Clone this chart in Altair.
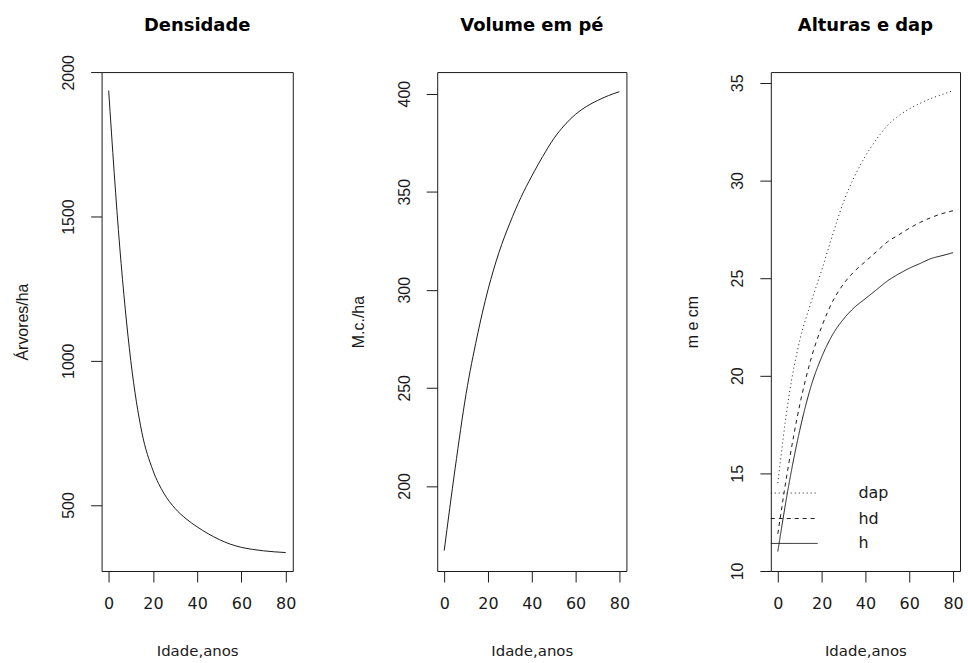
import altair as alt
import pandas as pd

# ---- data ----
idade = [0, 5, 10, 15, 20, 25, 30, 35, 40, 45, 50, 55, 60, 65, 70, 75, 80]
densidade = [1937, 1395, 1000, 752, 620, 540, 488, 452, 424, 400, 380, 364, 353, 346, 341, 337.5, 335]
volume = [167, 209, 247, 276, 300, 319, 334, 347, 358, 368, 377, 384, 389.5, 393.5, 396.5, 399, 401]
h = [11.0, 14.4, 17.2, 19.4, 20.95, 22.1, 22.9, 23.5, 23.95, 24.4, 24.85, 25.2, 25.5, 25.75, 26.0, 26.15, 26.3]
hd = [11.9, 15.5, 18.5, 20.8, 22.5, 23.8, 24.7, 25.35, 25.85, 26.35, 26.85, 27.2, 27.55, 27.85, 28.1, 28.3, 28.45]
dap = [14.5, 18.9, 21.8, 23.7, 25.4, 27.2, 28.9, 30.2, 31.25, 32.1, 32.8, 33.3, 33.66, 33.95, 34.2, 34.4, 34.6]

x_ticks = [0, 20, 40, 60, 80]
series_names = ["dap", "hd", "h"]
titles = ["Densidade", "Volume em pé", "Alturas e dap"]

INK = "#1a1a1a"
XDOM = [-3.2, 83.2]

x_axis = alt.Axis(
    values=x_ticks, format="d", grid=False, domain=False, tickSize=11, tickColor=INK,
    labelFont="DejaVu Sans", labelFontSize=16, labelColor=INK, labelPadding=14,
    title="Idade,anos", titleFont="DejaVu Sans", titleFontSize=15, titleFontWeight="normal",
    titleColor=INK, titlePadding=32,
)


def y_axis(title, values):
    return alt.Axis(
        values=values, format="d", grid=False, domain=False, tickSize=11, tickColor=INK,
        labelFont="Liberation Sans", labelFontSize=16, labelColor=INK, labelAngle=270,
        labelAlign="center", labelBaseline="bottom", labelPadding=14,
        title=title, titleFont="Liberation Sans", titleFontSize=16, titleFontWeight="normal",
        titleColor=INK, titlePadding=30,
    )


def title_mark(text, w):
    return alt.Chart(pd.DataFrame({"t": [text]})).mark_text(
        font="DejaVu Sans", fontSize=18, fontWeight="bold", color="#000",
        align="center", baseline="middle"
    ).encode(text="t:N", x=alt.value(w / 2), y=alt.value(-46))


W1, W2, H = 192, 190, 501

df1 = pd.DataFrame({"idade": idade, "v": densidade})
l1 = alt.Chart(df1).mark_line(color=INK, strokeWidth=1, interpolate="monotone").encode(
    x=alt.X("idade:Q", scale=alt.Scale(domain=XDOM, nice=False, zero=False), axis=x_axis),
    y=alt.Y("v:Q", scale=alt.Scale(domain=[271, 2001], nice=False, zero=False),
            axis=y_axis("Árvores/ha", [500, 1000, 1500, 2000])),
)
p1 = alt.layer(l1, title_mark(titles[0], W1)).properties(width=W1, height=H)

df2 = pd.DataFrame({"idade": idade, "v": volume})
l2 = alt.Chart(df2).mark_line(color=INK, strokeWidth=1, interpolate="monotone").encode(
    x=alt.X("idade:Q", scale=alt.Scale(domain=XDOM, nice=False, zero=False), axis=x_axis),
    y=alt.Y("v:Q", scale=alt.Scale(domain=[156.6, 411.0], nice=False, zero=False),
            axis=y_axis("M.c./ha", [200, 250, 300, 350, 400])),
)
p2 = alt.layer(l2, title_mark(titles[1], W2)).properties(width=W2, height=H)

rows = []
for name, vals in zip(series_names, [dap, hd, h]):
    for a, v in zip(idade, vals):
        rows.append({"idade": a, "v": v, "serie": name})
df3 = pd.DataFrame(rows)

dash_scale = alt.Scale(domain=series_names, range=[[1, 3], [4, 4], [1, 0]])
x3 = alt.X("idade:Q", scale=alt.Scale(domain=XDOM, nice=False, zero=False), axis=x_axis)
y3s = alt.Scale(domain=[10.0, 35.55], nice=False, zero=False)

lines3 = alt.Chart(df3).mark_line(color=INK, strokeWidth=1, interpolate="monotone").encode(
    x=x3,
    y=alt.Y("v:Q", scale=y3s, axis=y_axis("m e cm", [10, 15, 20, 25, 30, 35])),
    strokeDash=alt.StrokeDash("serie:N", scale=dash_scale, legend=None),
    detail="serie:N",
)

# manual legend (like R's legend(bty="n"))
leg_y = [422.7, 448.3, 473.3]
leg_layers = []
for name, yy, dash in zip(series_names, leg_y, [[1, 3], [4, 4], [1, 0]]):
    leg_df = pd.DataFrame({"label": [name]})
    rule = alt.Chart(leg_df).mark_rule(color=INK, strokeWidth=1, strokeDash=dash).encode(
        x=alt.value(0), x2=alt.value(47), y=alt.value(yy))
    txt = alt.Chart(leg_df).mark_text(
        align="left", baseline="middle", font="DejaVu Sans", fontSize=16, color=INK
    ).encode(text="label:N", x=alt.value(88), y=alt.value(yy))
    leg_layers += [rule, txt]

p3 = alt.layer(lines3, *leg_layers, title_mark(titles[2], W2)).properties(width=W2, height=H)

chart = alt.hconcat(p1, p2, p3, spacing=145, bounds="flush").properties(
    padding={"left": 14, "top": 15, "right": 4, "bottom": 2},
    background="white",
).configure_view(stroke=INK, strokeWidth=1)

chart.save("out.html", embed_options={"renderer": "svg", "actions": False})
